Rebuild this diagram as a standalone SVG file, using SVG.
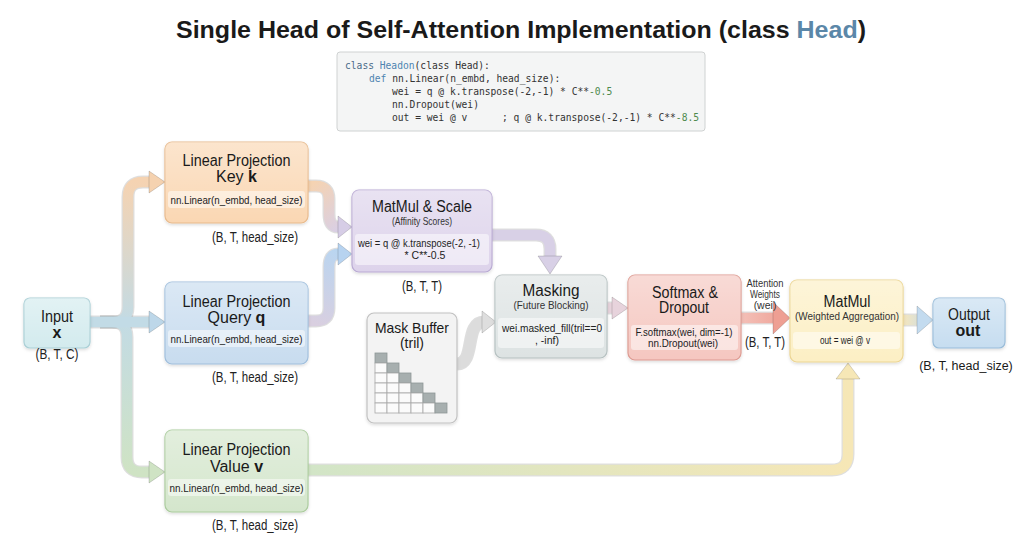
<svg xmlns="http://www.w3.org/2000/svg" width="1024" height="559" viewBox="0 0 1024 559">
<style>
text{font-family:"Liberation Sans",Arial,sans-serif;fill:#1a1a1a}
.t{font-size:16px;text-anchor:middle}
.s{font-size:10.5px;text-anchor:middle;fill:#333}
.c{font-size:10.5px;text-anchor:middle;fill:#222}
.l{font-size:14px;text-anchor:middle;fill:#222}
.code{font-family:"DejaVu Sans Mono","Liberation Mono",monospace;font-size:9.63px;fill:#333}
.kw{fill:#4a6a88}
.cl{fill:#4e84b0}
.num{fill:#4e8a4e}
.box{stroke-width:1.2}
.band{fill:#ffffff;fill-opacity:0.5}
.ol{fill:none;stroke:#000;stroke-opacity:0.13;stroke-width:13;stroke-linejoin:round}
.fl{fill:none;stroke-width:10.5;stroke-linejoin:round}
.hd{stroke:#000;stroke-opacity:0.15;stroke-width:1;stroke-linejoin:round}
.gw{fill:#fbfbfb;stroke:#a8a8a8;stroke-width:0.8}
.gd{fill:#a7afaf;stroke:#8e9797;stroke-width:0.8}
</style>
<defs>
<filter id="shadow" x="-10%" y="-10%" width="120%" height="130%">
<feDropShadow dx="0" dy="1.5" stdDeviation="1.5" flood-color="#000" flood-opacity="0.14"/>
</filter>
<linearGradient id="sheen" x1="0" y1="0" x2="0" y2="1">
<stop offset="0" stop-color="#fff" stop-opacity="0.35"/>
<stop offset="1" stop-color="#fff" stop-opacity="0"/>
</linearGradient>
<linearGradient id="gK" gradientUnits="userSpaceOnUse" x1="0" y1="322" x2="0" y2="182">
<stop offset="0" stop-color="#c3dbe4"/><stop offset="1" stop-color="#f5d3b2"/>
</linearGradient>
<linearGradient id="gV" gradientUnits="userSpaceOnUse" x1="0" y1="322" x2="0" y2="472">
<stop offset="0" stop-color="#c3dbe4"/><stop offset="1" stop-color="#cfe3c4"/>
</linearGradient>
<linearGradient id="gKM" gradientUnits="userSpaceOnUse" x1="310" y1="186" x2="345" y2="227">
<stop offset="0" stop-color="#f5d3b2"/><stop offset="1" stop-color="#d8cfe6"/>
</linearGradient>
<linearGradient id="gQM" gradientUnits="userSpaceOnUse" x1="310" y1="321" x2="345" y2="254">
<stop offset="0" stop-color="#d9cfe0"/><stop offset="1" stop-color="#b9d5f0"/>
</linearGradient>
<linearGradient id="gSM" gradientUnits="userSpaceOnUse" x1="738" y1="0" x2="790" y2="0">
<stop offset="0" stop-color="#f4c2ba"/><stop offset="1" stop-color="#ee9f93"/>
</linearGradient>
<linearGradient id="gMO" gradientUnits="userSpaceOnUse" x1="903" y1="0" x2="933" y2="0">
<stop offset="0" stop-color="#f5e6bd"/><stop offset="1" stop-color="#c3dbef"/>
</linearGradient>
<linearGradient id="gVM" gradientUnits="userSpaceOnUse" x1="310" y1="0" x2="850" y2="0">
<stop offset="0" stop-color="#d2e5c7"/><stop offset="1" stop-color="#f6e7b6"/>
</linearGradient>
</defs>
<rect x="0" y="0" width="1024" height="559" fill="#ffffff"/>

<g id="title">
<text x="521" y="38" font-size="24" font-weight="bold" text-anchor="middle" textLength="690" lengthAdjust="spacingAndGlyphs">Single Head of Self-Attention Implementation (class <tspan fill="#5b87a8">Head</tspan>)</text>
</g>

<g id="code">
<rect x="337" y="52" width="368" height="79" rx="3" fill="#f4f5f5" stroke="#cfd2d2" stroke-width="1"/>
<text class="code" x="345" y="69"><tspan class="kw">class</tspan> <tspan class="cl">Headon</tspan>(class Head):</text>
<text class="code" x="369" y="82"><tspan class="cl">def</tspan> nn.Linear(n_embd, head_size):</text>
<text class="code" x="392" y="95">wei = q @ k.transpose(-2,-1) * C**<tspan class="num">-0.5</tspan></text>
<text class="code" x="392" y="108">nn.Dropout(wei)</text>
<text class="code" x="392" y="121">out = wei @ v</text>
<text class="code" x="502" y="121">; q @ k.transpose(-2,-1) * C**<tspan class="num">-8.5</tspan></text>
</g>

<g id="connectors">
<path class="ol" d="M89,322 H150"/>
<path class="ol" d="M100,322 H113 Q128,322 128,307 V197 Q128,182 143,182 H151"/>
<path class="ol" d="M100,322 H112 Q127,322 127,337 V457 Q127,472 142,472 H151"/>
<path class="ol" d="M308,186 H316 Q329,186 329,199 V214 Q329,227 338,227 H340"/>
<path class="ol" d="M308,321 H316 Q329,321 329,308 V267 Q329,254 338,254 H340"/>
<path class="ol" d="M492,235 H536 Q550,235 550,249 V257"/>
<path class="ol" d="M457,364 C476,364 464,322 484,322"/>
<path class="ol" d="M607,308 H614"/>
<path class="ol" d="M741,318 H775"/>
<path class="ol" d="M903,320 H919"/>
<path class="ol" d="M308,470 H832 Q848,470 848,454 V379"/>
<path class="fl" stroke="url(#gK)" d="M100,322 H113 Q128,322 128,307 V197 Q128,182 143,182 H151"/>
<path class="fl" stroke="url(#gV)" d="M100,322 H112 Q127,322 127,337 V457 Q127,472 142,472 H151"/>
<path class="fl" stroke="#c2dbe6" d="M89,322 H150"/>
<path class="fl" stroke="url(#gKM)" d="M308,186 H316 Q329,186 329,199 V214 Q329,227 338,227 H340"/>
<path class="fl" stroke="url(#gQM)" d="M308,321 H316 Q329,321 329,308 V267 Q329,254 338,254 H340"/>
<path class="fl" stroke="#d8d0e6" d="M492,235 H536 Q550,235 550,249 V257"/>
<path class="fl" stroke="#dcdcdc" d="M457,364 C476,364 464,322 484,322"/>
<path class="fl" stroke="#e7d3dc" d="M607,308 H614"/>
<path class="fl" stroke="url(#gSM)" d="M741,318 H775"/>
<path class="fl" stroke="url(#gMO)" d="M903,320 H919"/>
<path class="fl" stroke="url(#gVM)" d="M308,470 H832 Q848,470 848,454 V379"/>
<polygon class="hd" fill="#bdd7e9" points="149,311 165,322 149,333"/>
<polygon class="hd" fill="#f5d2b0" points="149,171 165,182 149,193"/>
<polygon class="hd" fill="#cfe3c4" points="149,461 165,472 149,483"/>
<polygon class="hd" fill="#d6cde6" points="338,216 352,227 338,238"/>
<polygon class="hd" fill="#b7d3f0" points="338,243 352,254 338,265"/>
<polygon class="hd" fill="#d8d0e6" points="538,256 550,274 562,256"/>
<polygon class="hd" fill="#dedede" points="482,311 496,322 482,333"/>
<polygon class="hd" fill="#e7d3dc" points="612,297 628,308 612,319"/>
<polygon class="hd" fill="#ee9f93" points="773,302 790,318 773,334"/>
<polygon class="hd" fill="#c3dbef" points="917,306 933,320 917,334"/>
<polygon class="hd" fill="#f6e7b6" points="836,379 848,363 860,379"/>
</g>

<g id="input">
<rect class="box" x="24" y="298" width="66" height="50" rx="6" fill="#d3ebee" stroke="#a9cfd6" filter="url(#shadow)"/>
<rect x="24" y="298" width="66" height="50" rx="6" fill="url(#sheen)"/>
<text class="t" x="57" y="322" textLength="32" lengthAdjust="spacingAndGlyphs">Input</text>
<text class="t" x="57" y="338" font-weight="bold">x</text>
<text class="l" x="57" y="359" textLength="43" lengthAdjust="spacingAndGlyphs">(B, T, C)</text>
</g>

<g id="key">
<rect class="box" x="165" y="142" width="143" height="81" rx="7" fill="#fad7b3" stroke="#e8ba8c" filter="url(#shadow)"/>
<rect x="165" y="142" width="143" height="81" rx="7" fill="url(#sheen)"/>
<text class="t" x="236.5" y="166" textLength="108" lengthAdjust="spacingAndGlyphs">Linear Projection</text>
<text class="t" x="236.5" y="182">Key <tspan font-weight="bold">k</tspan></text>
<rect class="band" x="168" y="191" width="137" height="17" rx="3"/>
<text class="c" x="236.5" y="203.5" textLength="132" lengthAdjust="spacingAndGlyphs">nn.Linear(n_embd, head_size)</text>
<text class="l" x="255" y="242" textLength="86" lengthAdjust="spacingAndGlyphs">(B, T, head_size)</text>
</g>

<g id="query">
<rect class="box" x="165" y="282" width="143" height="82" rx="7" fill="#c8dcef" stroke="#9fbedc" filter="url(#shadow)"/>
<rect x="165" y="282" width="143" height="82" rx="7" fill="url(#sheen)"/>
<text class="t" x="236.5" y="307" textLength="108" lengthAdjust="spacingAndGlyphs">Linear Projection</text>
<text class="t" x="236.5" y="323">Query <tspan font-weight="bold">q</tspan></text>
<rect class="band" x="168" y="330" width="137" height="17" rx="3"/>
<text class="c" x="236.5" y="342.5" textLength="132" lengthAdjust="spacingAndGlyphs">nn.Linear(n_embd, head_size)</text>
<text class="l" x="255" y="382" textLength="86" lengthAdjust="spacingAndGlyphs">(B, T, head_size)</text>
</g>

<g id="value">
<rect class="box" x="165" y="430" width="143" height="82" rx="7" fill="#d4e6cc" stroke="#aacb9c" filter="url(#shadow)"/>
<rect x="165" y="430" width="143" height="82" rx="7" fill="url(#sheen)"/>
<text class="t" x="236.5" y="455" textLength="108" lengthAdjust="spacingAndGlyphs">Linear Projection</text>
<text class="t" x="236.5" y="472">Value <tspan font-weight="bold">v</tspan></text>
<rect class="band" x="168" y="479" width="137" height="17" rx="3"/>
<text class="c" x="236.5" y="491.5" textLength="134" lengthAdjust="spacingAndGlyphs">nn.Linear(n_embd, head_size)</text>
<text class="l" x="255" y="530" textLength="86" lengthAdjust="spacingAndGlyphs">(B, T, head_size)</text>
</g>

<g id="matmul-scale">
<rect class="box" x="352" y="190" width="140" height="82" rx="7" fill="#ddd3eb" stroke="#b9aad3" filter="url(#shadow)"/>
<rect x="352" y="190" width="140" height="82" rx="7" fill="url(#sheen)"/>
<text class="t" x="422" y="212" textLength="100" lengthAdjust="spacingAndGlyphs">MatMul &amp; Scale</text>
<text class="s" x="422" y="224.5" textLength="60" lengthAdjust="spacingAndGlyphs">(Affinity Scores)</text>
<rect class="band" x="355" y="234" width="134" height="31" rx="3"/>
<text class="c" x="419" y="247" textLength="122" lengthAdjust="spacingAndGlyphs">wei = q @ k.transpose(-2, -1)</text>
<text class="c" x="425" y="259">* C**-0.5</text>
<text class="l" x="422" y="291" textLength="40" lengthAdjust="spacingAndGlyphs">(B, T, T)</text>
</g>

<g id="masking">
<rect class="box" x="495" y="275" width="112" height="83" rx="7" fill="#dde3e3" stroke="#b5c0c0" filter="url(#shadow)"/>
<rect x="495" y="275" width="112" height="83" rx="7" fill="url(#sheen)"/>
<text class="t" x="551" y="296" textLength="57" lengthAdjust="spacingAndGlyphs">Masking</text>
<text class="s" x="551" y="309" textLength="75" lengthAdjust="spacingAndGlyphs">(Future Blocking)</text>
<rect class="band" x="498" y="318" width="106" height="30" rx="3"/>
<text class="c" x="552" y="332" textLength="100" lengthAdjust="spacingAndGlyphs">wei.masked_fill(tril==0</text>
<text class="c" x="547" y="344">, -inf)</text>
</g>

<g id="mask-buffer">
<rect class="box" x="367" y="313" width="90" height="110" rx="7" fill="#f3f3f3" stroke="#c2c2c2" filter="url(#shadow)"/>
<text x="412" y="333" font-size="15" text-anchor="middle" textLength="74" lengthAdjust="spacingAndGlyphs">Mask Buffer</text>
<text x="412" y="348" font-size="14" text-anchor="middle">(tril)</text>
<rect class="gd" x="375" y="353" width="12" height="10"/>
<rect class="gw" x="375" y="363" width="12" height="10"/><rect class="gd" x="387" y="363" width="12" height="10"/>
<rect class="gw" x="375" y="373" width="12" height="10"/><rect class="gw" x="387" y="373" width="12" height="10"/><rect class="gd" x="399" y="373" width="12" height="10"/>
<rect class="gw" x="375" y="383" width="12" height="10"/><rect class="gw" x="387" y="383" width="12" height="10"/><rect class="gw" x="399" y="383" width="12" height="10"/><rect class="gd" x="411" y="383" width="12" height="10"/>
<rect class="gw" x="375" y="393" width="12" height="10"/><rect class="gw" x="387" y="393" width="12" height="10"/><rect class="gw" x="399" y="393" width="12" height="10"/><rect class="gw" x="411" y="393" width="12" height="10"/><rect class="gd" x="423" y="393" width="12" height="10"/>
<rect class="gw" x="375" y="403" width="12" height="10"/><rect class="gw" x="387" y="403" width="12" height="10"/><rect class="gw" x="399" y="403" width="12" height="10"/><rect class="gw" x="411" y="403" width="12" height="10"/><rect class="gw" x="423" y="403" width="12" height="10"/><rect class="gd" x="435" y="403" width="12" height="10"/>
</g>

<g id="softmax">
<rect class="box" x="628" y="275" width="113" height="85" rx="7" fill="#f5c7c0" stroke="#dd9a91" filter="url(#shadow)"/>
<rect x="628" y="275" width="113" height="85" rx="7" fill="url(#sheen)"/>
<text class="t" x="685" y="298" textLength="66" lengthAdjust="spacingAndGlyphs">Softmax &amp;</text>
<text class="t" x="684" y="313" textLength="50" lengthAdjust="spacingAndGlyphs">Dropout</text>
<rect class="band" x="631" y="325" width="107" height="25" rx="3"/>
<text class="c" x="684" y="335.5" textLength="97" lengthAdjust="spacingAndGlyphs">F.softmax(wei, dim=-1)</text>
<text class="c" x="683" y="346.5" textLength="70" lengthAdjust="spacingAndGlyphs">nn.Dropout(wei)</text>
</g>

<g id="attention-label">
<text class="s" x="765" y="287" font-size="10" textLength="37" lengthAdjust="spacingAndGlyphs">Attention</text>
<text class="s" x="765" y="298" font-size="10" textLength="30" lengthAdjust="spacingAndGlyphs">Weights</text>
<text class="s" x="765" y="309" font-size="10">(wei)</text>
<text class="l" x="765" y="347" textLength="40" lengthAdjust="spacingAndGlyphs">(B, T, T)</text>
</g>

<g id="matmul">
<rect class="box" x="790" y="280" width="113" height="82" rx="7" fill="#fcefc4" stroke="#ecd592" filter="url(#shadow)"/>
<rect x="790" y="280" width="113" height="82" rx="7" fill="url(#sheen)"/>
<text class="t" x="847" y="307" textLength="47" lengthAdjust="spacingAndGlyphs">MatMul</text>
<text class="s" x="847" y="319.5" textLength="104" lengthAdjust="spacingAndGlyphs">(Weighted Aggregation)</text>
<rect class="band" x="793" y="332" width="107" height="17" rx="3"/>
<text class="c" x="845" y="344" textLength="50" lengthAdjust="spacingAndGlyphs">out = wei @ v</text>
</g>

<g id="output">
<rect class="box" x="933" y="298" width="72" height="50" rx="6" fill="#c6ddf0" stroke="#98bcd9" filter="url(#shadow)"/>
<rect x="933" y="298" width="72" height="50" rx="6" fill="url(#sheen)"/>
<text class="t" x="969" y="320" textLength="42" lengthAdjust="spacingAndGlyphs">Output</text>
<text class="t" x="968" y="336" font-weight="bold">out</text>
<text x="966" y="370" font-size="12.5" text-anchor="middle" fill="#222">(B, T, head_size)</text>
</g>
</svg>
